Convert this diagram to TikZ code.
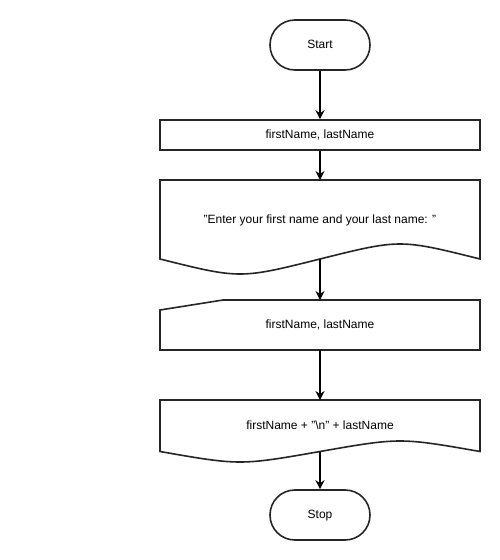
\documentclass[tikz,border=0pt]{standalone}
\usepackage{fontspec}
\setmainfont{Liberation Sans}
\usetikzlibrary{arrows.meta}
\newcommand{\dq}{\char34\relax}
\begin{document}
\begin{tikzpicture}[x=1pt,y=-1pt,
  shapeline/.style={draw=black!85,line width=1.6pt,line join=miter},
  txt/.style={font=\fontsize{12}{14}\selectfont,text height=8.6pt,text depth=2.6pt},
  label/.style={txt,inner sep=0pt},
  terminal/.style={shapeline,txt,rounded corners=24.9pt,minimum width=100pt,minimum height=50pt},
  boxnode/.style={shapeline,txt,minimum width=320pt,minimum height=30pt},
  flow/.style={draw=black,line width=1.6pt,-{Stealth[length=9pt,width=9pt,inset=3pt]}}]
\useasboundingbox[fill=white] (0,0) rectangle (500,560);

% start / stop terminals
\node[terminal] (start) at (320,45) {Start};
\node[terminal] (stop) at (320,515) {Stop};

% declaration box
\node[boxnode] (decl) at (320,135) {firstName, lastName};

% output document with the prompt
\draw[shapeline] (160,180) -- (480,180) -- (480,259)
  .. controls (400,239) .. (320,259)
  .. controls (240,279) .. (160,259) -- cycle;
\node[label] (prompt) at (320,220) {\dq Enter your first name and your last name: \dq};
\coordinate (promptTop) at (320,180);
\coordinate (promptBot) at (320,259);

% manual input of the two names
\draw[shapeline] (160,310) -- (223,300) -- (480,300) -- (480,350) -- (160,350) -- cycle;
\node[label] (input) at (320,325) {firstName, lastName};
\coordinate (inputTop) at (320,300);
\coordinate (inputBot) at (320,350);

% output document with the joined names
\draw[shapeline] (160,400) -- (480,400) -- (480,451.5)
  .. controls (400,437.5) .. (320,451.5)
  .. controls (240,465.5) .. (160,451.5) -- cycle;
\node[label] (result) at (320,426) {firstName + \dq\textbackslash n\dq{} + lastName};
\coordinate (resultTop) at (320,400);
\coordinate (resultBot) at (320,451.5);

% connectors
\draw[flow] (start.south) -- (decl.north);
\draw[flow] (decl.south) -- (promptTop);
\draw[flow] (promptBot) -- (inputTop);
\draw[flow] (inputBot) -- (resultTop);
\draw[flow] (resultBot) -- (stop.north);
\end{tikzpicture}
\end{document}
